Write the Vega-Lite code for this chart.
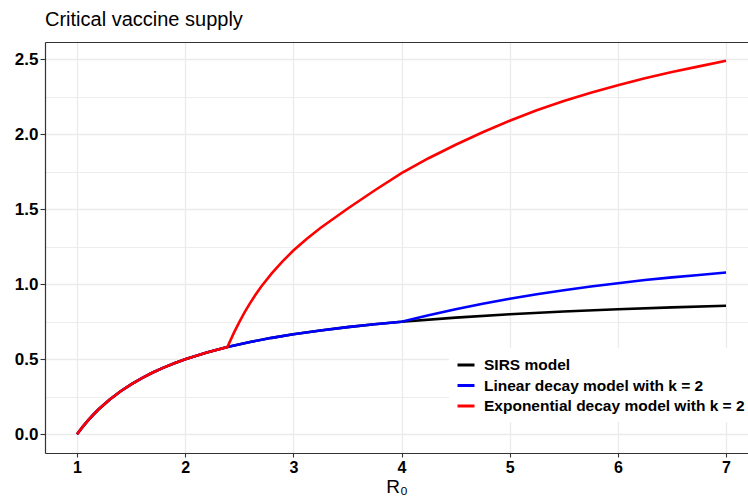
{
  "$schema": "https://vega.github.io/schema/vega-lite/v6.json",
  "autosize": {"type": "none"},
  "padding": {"left": 45, "top": 42, "right": 0, "bottom": 47},
  "width": 703,
  "height": 411,
  "background": "white",
  "title": {
    "text": "Critical vaccine supply",
    "anchor": "start",
    "frame": "group",
    "dx": 0,
    "offset": -4,
    "baseline": "alphabetic",
    "font": "Liberation Sans",
    "fontSize": 20,
    "fontWeight": "normal",
    "color": "black"
  },
  "config": {
    "view": {"stroke": null},
    "axis": {
      "labelFont": "Liberation Sans",
      "labelFontSize": 17,
      "labelFontWeight": "bold",
      "labelColor": "black",
      "titleFont": "Liberation Sans",
      "titleFontWeight": "normal",
      "titleColor": "black",
      "domainColor": "#333333",
      "domainWidth": 1.2,
      "tickColor": "#333333",
      "gridColor": "#ebebeb"
    }
  },
  "data": {
    "values": [
      {"R0": 1.0, "value": 0.0, "model": "SIRS model"},
      {"R0": 1.05, "value": 0.0476, "model": "SIRS model"},
      {"R0": 1.1, "value": 0.0909, "model": "SIRS model"},
      {"R0": 1.15, "value": 0.1304, "model": "SIRS model"},
      {"R0": 1.2, "value": 0.1667, "model": "SIRS model"},
      {"R0": 1.3, "value": 0.2308, "model": "SIRS model"},
      {"R0": 1.4, "value": 0.2857, "model": "SIRS model"},
      {"R0": 1.5, "value": 0.3333, "model": "SIRS model"},
      {"R0": 1.6, "value": 0.375, "model": "SIRS model"},
      {"R0": 1.7, "value": 0.4118, "model": "SIRS model"},
      {"R0": 1.8, "value": 0.4444, "model": "SIRS model"},
      {"R0": 1.9, "value": 0.4737, "model": "SIRS model"},
      {"R0": 2.0, "value": 0.5, "model": "SIRS model"},
      {"R0": 2.2, "value": 0.5455, "model": "SIRS model"},
      {"R0": 2.39, "value": 0.5816, "model": "SIRS model"},
      {"R0": 2.6, "value": 0.6154, "model": "SIRS model"},
      {"R0": 2.8, "value": 0.6429, "model": "SIRS model"},
      {"R0": 3.0, "value": 0.6667, "model": "SIRS model"},
      {"R0": 3.25, "value": 0.6923, "model": "SIRS model"},
      {"R0": 3.5, "value": 0.7143, "model": "SIRS model"},
      {"R0": 3.75, "value": 0.7333, "model": "SIRS model"},
      {"R0": 4.0, "value": 0.75, "model": "SIRS model"},
      {"R0": 4.5, "value": 0.7778, "model": "SIRS model"},
      {"R0": 5.0, "value": 0.8, "model": "SIRS model"},
      {"R0": 5.5, "value": 0.8182, "model": "SIRS model"},
      {"R0": 6.0, "value": 0.8333, "model": "SIRS model"},
      {"R0": 6.5, "value": 0.8462, "model": "SIRS model"},
      {"R0": 7.0, "value": 0.8571, "model": "SIRS model"},

      {"R0": 1.0, "value": 0.0, "model": "Linear decay model with k = 2"},
      {"R0": 1.05, "value": 0.0476, "model": "Linear decay model with k = 2"},
      {"R0": 1.1, "value": 0.0909, "model": "Linear decay model with k = 2"},
      {"R0": 1.15, "value": 0.1304, "model": "Linear decay model with k = 2"},
      {"R0": 1.2, "value": 0.1667, "model": "Linear decay model with k = 2"},
      {"R0": 1.3, "value": 0.2308, "model": "Linear decay model with k = 2"},
      {"R0": 1.4, "value": 0.2857, "model": "Linear decay model with k = 2"},
      {"R0": 1.5, "value": 0.3333, "model": "Linear decay model with k = 2"},
      {"R0": 1.6, "value": 0.375, "model": "Linear decay model with k = 2"},
      {"R0": 1.7, "value": 0.4118, "model": "Linear decay model with k = 2"},
      {"R0": 1.8, "value": 0.4444, "model": "Linear decay model with k = 2"},
      {"R0": 1.9, "value": 0.4737, "model": "Linear decay model with k = 2"},
      {"R0": 2.0, "value": 0.5, "model": "Linear decay model with k = 2"},
      {"R0": 2.2, "value": 0.5455, "model": "Linear decay model with k = 2"},
      {"R0": 2.39, "value": 0.5816, "model": "Linear decay model with k = 2"},
      {"R0": 2.6, "value": 0.6154, "model": "Linear decay model with k = 2"},
      {"R0": 2.8, "value": 0.6429, "model": "Linear decay model with k = 2"},
      {"R0": 3.0, "value": 0.6667, "model": "Linear decay model with k = 2"},
      {"R0": 3.25, "value": 0.6923, "model": "Linear decay model with k = 2"},
      {"R0": 3.5, "value": 0.7143, "model": "Linear decay model with k = 2"},
      {"R0": 3.75, "value": 0.7333, "model": "Linear decay model with k = 2"},
      {"R0": 4.0, "value": 0.75, "model": "Linear decay model with k = 2"},
      {"R0": 4.25, "value": 0.793, "model": "Linear decay model with k = 2"},
      {"R0": 4.5, "value": 0.833, "model": "Linear decay model with k = 2"},
      {"R0": 4.75, "value": 0.87, "model": "Linear decay model with k = 2"},
      {"R0": 5.0, "value": 0.903, "model": "Linear decay model with k = 2"},
      {"R0": 5.25, "value": 0.933, "model": "Linear decay model with k = 2"},
      {"R0": 5.5, "value": 0.96, "model": "Linear decay model with k = 2"},
      {"R0": 5.75, "value": 0.985, "model": "Linear decay model with k = 2"},
      {"R0": 6.0, "value": 1.007, "model": "Linear decay model with k = 2"},
      {"R0": 6.25, "value": 1.028, "model": "Linear decay model with k = 2"},
      {"R0": 6.5, "value": 1.046, "model": "Linear decay model with k = 2"},
      {"R0": 6.75, "value": 1.062, "model": "Linear decay model with k = 2"},
      {"R0": 7.0, "value": 1.078, "model": "Linear decay model with k = 2"},

      {"R0": 1.0, "value": 0.0, "model": "Exponential decay model with k = 2"},
      {"R0": 1.05, "value": 0.0476, "model": "Exponential decay model with k = 2"},
      {"R0": 1.1, "value": 0.0909, "model": "Exponential decay model with k = 2"},
      {"R0": 1.15, "value": 0.1304, "model": "Exponential decay model with k = 2"},
      {"R0": 1.2, "value": 0.1667, "model": "Exponential decay model with k = 2"},
      {"R0": 1.3, "value": 0.2308, "model": "Exponential decay model with k = 2"},
      {"R0": 1.4, "value": 0.2857, "model": "Exponential decay model with k = 2"},
      {"R0": 1.5, "value": 0.3333, "model": "Exponential decay model with k = 2"},
      {"R0": 1.6, "value": 0.375, "model": "Exponential decay model with k = 2"},
      {"R0": 1.7, "value": 0.4118, "model": "Exponential decay model with k = 2"},
      {"R0": 1.8, "value": 0.4444, "model": "Exponential decay model with k = 2"},
      {"R0": 1.9, "value": 0.4737, "model": "Exponential decay model with k = 2"},
      {"R0": 2.0, "value": 0.5, "model": "Exponential decay model with k = 2"},
      {"R0": 2.2, "value": 0.5455, "model": "Exponential decay model with k = 2"},
      {"R0": 2.39, "value": 0.5816, "model": "Exponential decay model with k = 2"},
      {"R0": 2.45, "value": 0.676, "model": "Exponential decay model with k = 2"},
      {"R0": 2.5, "value": 0.748, "model": "Exponential decay model with k = 2"},
      {"R0": 2.55, "value": 0.814, "model": "Exponential decay model with k = 2"},
      {"R0": 2.6, "value": 0.874, "model": "Exponential decay model with k = 2"},
      {"R0": 2.65, "value": 0.93, "model": "Exponential decay model with k = 2"},
      {"R0": 2.7, "value": 0.982, "model": "Exponential decay model with k = 2"},
      {"R0": 2.8, "value": 1.072, "model": "Exponential decay model with k = 2"},
      {"R0": 2.9, "value": 1.152, "model": "Exponential decay model with k = 2"},
      {"R0": 3.0, "value": 1.225, "model": "Exponential decay model with k = 2"},
      {"R0": 3.125, "value": 1.303, "model": "Exponential decay model with k = 2"},
      {"R0": 3.25, "value": 1.375, "model": "Exponential decay model with k = 2"},
      {"R0": 3.5, "value": 1.503, "model": "Exponential decay model with k = 2"},
      {"R0": 3.75, "value": 1.625, "model": "Exponential decay model with k = 2"},
      {"R0": 4.0, "value": 1.74, "model": "Exponential decay model with k = 2"},
      {"R0": 4.25, "value": 1.84, "model": "Exponential decay model with k = 2"},
      {"R0": 4.5, "value": 1.93, "model": "Exponential decay model with k = 2"},
      {"R0": 4.75, "value": 2.013, "model": "Exponential decay model with k = 2"},
      {"R0": 5.0, "value": 2.09, "model": "Exponential decay model with k = 2"},
      {"R0": 5.25, "value": 2.16, "model": "Exponential decay model with k = 2"},
      {"R0": 5.5, "value": 2.222, "model": "Exponential decay model with k = 2"},
      {"R0": 5.75, "value": 2.277, "model": "Exponential decay model with k = 2"},
      {"R0": 6.0, "value": 2.327, "model": "Exponential decay model with k = 2"},
      {"R0": 6.25, "value": 2.373, "model": "Exponential decay model with k = 2"},
      {"R0": 6.5, "value": 2.414, "model": "Exponential decay model with k = 2"},
      {"R0": 6.75, "value": 2.452, "model": "Exponential decay model with k = 2"},
      {"R0": 7.0, "value": 2.489, "model": "Exponential decay model with k = 2"}
    ]
  },
  "layer": [
    {
      "mark": {"type": "line", "strokeWidth": 2.6, "clip": true},
      "encoding": {
        "x": {
          "field": "R0",
          "type": "quantitative",
          "scale": {"domain": [0.704, 7.203], "nice": false, "zero": false},
          "axis": {
            "orient": "bottom",
            "values": [1, 1.5, 2, 2.5, 3, 3.5, 4, 4.5, 5, 5.5, 6, 6.5, 7],
            "labelExpr": "datum.value % 1 === 0 ? datum.label : ''",
            "format": "d",
            "labelFontSize": 16,
            "tickSize": {"condition": {"test": "datum.value % 1 === 0", "value": 4}, "value": 0},
            "tickWidth": 1.1,
            "gridWidth": {"condition": {"test": "datum.value % 1 === 0", "value": 1.3}, "value": 0.9},
            "labelPadding": 2,
            "domain": true,
            "title": "R₀",
            "titleFontSize": 19,
            "titlePadding": 2
          }
        },
        "y": {
          "field": "value",
          "type": "quantitative",
          "scale": {"domain": [-0.1245, 2.6145], "nice": false, "zero": false},
          "axis": {
            "orient": "left",
            "values": [0, 0.25, 0.5, 0.75, 1, 1.25, 1.5, 1.75, 2, 2.25, 2.5],
            "labelExpr": "(datum.value * 2) % 1 === 0 ? format(datum.value, '.1f') : ''",
            "tickSize": {"condition": {"test": "(datum.value * 2) % 1 === 0", "value": 5}, "value": 0},
            "tickWidth": 1.1,
            "gridWidth": {"condition": {"test": "(datum.value * 2) % 1 === 0", "value": 1.3}, "value": 0.9},
            "labelPadding": 2,
            "domain": true,
            "title": null
          }
        },
        "color": {
          "field": "model",
          "type": "nominal",
          "sort": ["SIRS model", "Linear decay model with k = 2", "Exponential decay model with k = 2"],
          "scale": {
            "domain": ["SIRS model", "Linear decay model with k = 2", "Exponential decay model with k = 2"],
            "range": ["#000000", "#0000ff", "#ff0000"]
          },
          "legend": {
            "orient": "none",
            "legendX": 404,
            "legendY": 306,
            "title": null,
            "fillColor": "white",
            "padding": 7,
            "symbolType": "stroke",
            "symbolSize": 289,
            "symbolStrokeWidth": 3,
            "labelFont": "Liberation Sans",
            "labelFontSize": 15.5,
            "labelFontWeight": "bold",
            "labelColor": "black",
            "labelOffset": 8,
            "rowPadding": 1.5,
            "labelLimit": 400
          }
        }
      }
    },
    {
      "mark": {"type": "line", "opacity": 0},
      "encoding": {
        "x": {
          "field": "R0",
          "type": "quantitative",
          "axis": {
            "orient": "top",
            "labels": false,
            "ticks": false,
            "grid": false,
            "domain": true,
            "title": null
          }
        },
        "y": {"field": "value", "type": "quantitative"}
      }
    }
  ],
  "resolve": {"axis": {"x": "independent"}}
}
